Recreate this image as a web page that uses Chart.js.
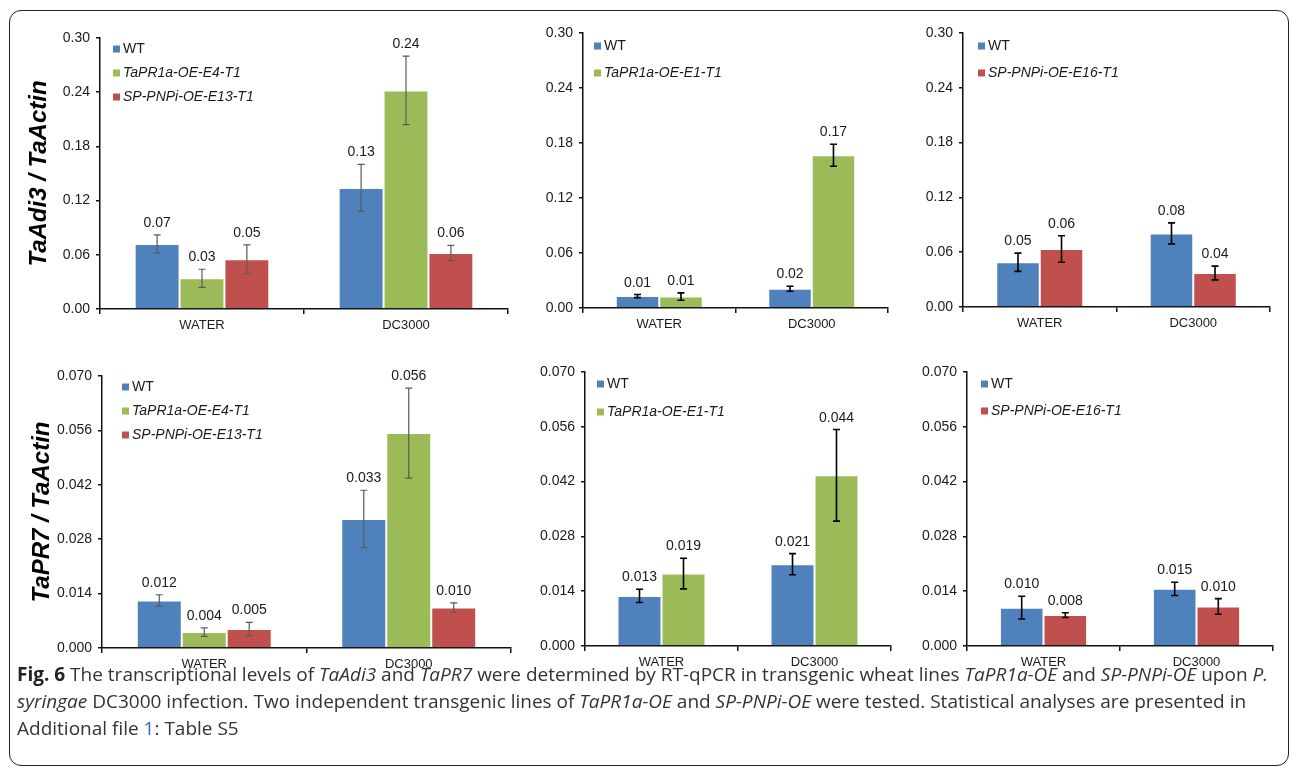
<!DOCTYPE html>
<html>
<head>
<meta charset="utf-8">
<script src="https://cdn.jsdelivr.net/npm/chart.js@4.4.1/dist/chart.umd.min.js"></script>
<style>
html, body { margin: 0; padding: 0; background: #fff; }
body { width: 1290px; height: 768px; position: relative; overflow: hidden; font-family: "Liberation Sans", Arial, sans-serif; }
#frame { position: absolute; left: 9px; top: 10px; width: 1280px; height: 756px; border: 1.5px solid #222; border-radius: 12px; box-sizing: border-box; }
canvas { position: absolute; }
#caption { position: absolute; left: 17px; top: 661px; font-family: "Open Sans", sans-serif; font-size: 19px; line-height: 27px; color: #333; white-space: nowrap; transform-origin: 0 0; }
#caption b { font-weight: 700; color: #222; }
#caption a { color: #3366cc; text-decoration: none; }
</style>
</head>
<body>
<div id="frame"></div>
<canvas id="p1" width="520" height="340" style="left:0;top:0"></canvas>
<canvas id="p2" width="380" height="340" style="left:520px;top:0"></canvas>
<canvas id="p3" width="385" height="340" style="left:900px;top:0"></canvas>
<canvas id="p4" width="520" height="350" style="left:0;top:340px"></canvas>
<canvas id="p5" width="380" height="350" style="left:520px;top:340px"></canvas>
<canvas id="p6" width="385" height="350" style="left:900px;top:340px"></canvas>
<div id="caption">
  <div id="capLine1"><b>Fig. 6</b> The transcriptional levels of <i>TaAdi3</i> and <i>TaPR7</i> were determined by RT-qPCR in transgenic wheat lines <i>TaPR1a-OE</i> and <i>SP-PNPi-OE</i> upon <i>P.</i></div>
  <div><i>syringae</i> DC3000 infection. Two independent transgenic lines of <i>TaPR1a-OE</i> and <i>SP-PNPi-OE</i> were tested. Statistical analyses are presented in</div>
  <div>Additional file <a>1</a>: Table S5</div>
</div>
<script>
// --- data ---------------------------------------------------------------
const categories = ['WATER', 'DC3000'];

const adi3Ticks = [0, 0.06, 0.12, 0.18, 0.24, 0.30];
const adi3TickLabels = ['0.00', '0.06', '0.12', '0.18', '0.24', '0.30'];
const pr7Ticks = [0, 0.014, 0.028, 0.042, 0.056, 0.070];
const pr7TickLabels = ['0.000', '0.014', '0.028', '0.042', '0.056', '0.070'];

// TaAdi3, E4 / E13 lines
const adi3A_wt = [0.072, 0.134];
const adi3A_wtErr = [0.010, 0.026];
const adi3A_wtLbl = ['0.07', '0.13'];
const adi3A_e4 = [0.034, 0.242];
const adi3A_e4Err = [0.010, 0.038];
const adi3A_e4Lbl = ['0.03', '0.24'];
const adi3A_e13 = [0.055, 0.062];
const adi3A_e13Err = [0.016, 0.0085];
const adi3A_e13Lbl = ['0.05', '0.06'];

// TaAdi3, E1 line
const adi3B_wt = [0.013, 0.021];
const adi3B_wtErr = [0.0017, 0.0027];
const adi3B_wtLbl = ['0.01', '0.02'];
const adi3B_e1 = [0.0125, 0.1666];
const adi3B_e1Err = [0.004, 0.012];
const adi3B_e1Lbl = ['0.01', '0.17'];

// TaAdi3, E16 line
const adi3C_wt = [0.049, 0.0806];
const adi3C_wtErr = [0.010, 0.0115];
const adi3C_wtLbl = ['0.05', '0.08'];
const adi3C_e16 = [0.0635, 0.0372];
const adi3C_e16Err = [0.0145, 0.0075];
const adi3C_e16Lbl = ['0.06', '0.04'];

// TaPR7, E4 / E13 lines
const pr7A_wt = [0.0122, 0.0332];
const pr7A_wtErr = [0.0015, 0.0074];
const pr7A_wtLbl = ['0.012', '0.033'];
const pr7A_e4 = [0.0041, 0.0553];
const pr7A_e4Err = [0.0011, 0.0116];
const pr7A_e4Lbl = ['0.004', '0.056'];
const pr7A_e13 = [0.0049, 0.0104];
const pr7A_e13Err = [0.0017, 0.0012];
const pr7A_e13Lbl = ['0.005', '0.010'];

// TaPR7, E1 line
const pr7B_wt = [0.0128, 0.0209];
const pr7B_wtErr = [0.0017, 0.0027];
const pr7B_wtLbl = ['0.013', '0.021'];
const pr7B_e1 = [0.0185, 0.0436];
const pr7B_e1Err = [0.0039, 0.0117];
const pr7B_e1Lbl = ['0.019', '0.044'];

// TaPR7, E16 line
const pr7C_wt = [0.0098, 0.0146];
const pr7C_wtErr = [0.0029, 0.0017];
const pr7C_wtLbl = ['0.010', '0.015'];
const pr7C_e16 = [0.0079, 0.0101];
const pr7C_e16Err = [0.0006, 0.0020];
const pr7C_e16Lbl = ['0.008', '0.010'];

// --- colours (Excel defaults) ----------------------------------------------
const BLUE = '#4f81bd', GREEN = '#9bbb59', RED = '#c0504d';
const FONT = '"Liberation Sans", Arial, sans-serif';

function ds(label, color, data, errors, valueLabels) {
    return { label, data, errors, valueLabels, backgroundColor: color, borderColor: 'rgba(255,255,255,0.35)', borderWidth: 1 };
}

// error bars + value labels on top of them
const errorBars = {
    id: 'errorBars',
    afterDatasetsDraw(chart, args, opts) {
        const ctx = chart.ctx;
        const y = chart.scales.y;
        chart.data.datasets.forEach((d, i) => {
            chart.getDatasetMeta(i).data.forEach((bar, j) => {
                const yt = y.getPixelForValue(d.data[j] + d.errors[j]);
                const yb = y.getPixelForValue(d.data[j] - d.errors[j]);
                ctx.save();
                ctx.strokeStyle = opts.color;
                ctx.lineWidth = opts.width;
                ctx.beginPath();
                ctx.moveTo(bar.x, yt); ctx.lineTo(bar.x, yb);
                ctx.moveTo(bar.x - 3.5, yt); ctx.lineTo(bar.x + 3.5, yt);
                ctx.moveTo(bar.x - 3.5, yb); ctx.lineTo(bar.x + 3.5, yb);
                ctx.stroke();
                ctx.fillStyle = '#1a1a1a';
                ctx.font = '14px ' + FONT;
                ctx.textAlign = 'center';
                ctx.textBaseline = 'alphabetic';
                ctx.fillText(d.valueLabels[j], bar.x, yt - 8);
                ctx.restore();
            });
        });
    },
};

// small square legend inside the plot, top left
const boxLegend = {
    id: 'boxLegend',
    afterDraw(chart, args, opts) {
        const { ctx, chartArea } = chart;
        chart.data.datasets.forEach((d, i) => {
            const cy = chartArea.top + opts.y + i * opts.gap;
            const x = chartArea.left + opts.x;
            ctx.save();
            ctx.fillStyle = d.backgroundColor;
            ctx.fillRect(x, cy - 3.5, 7, 7);
            ctx.fillStyle = '#1a1a1a';
            ctx.font = (i === 0 ? '' : 'italic ') + '14px ' + FONT;
            ctx.textAlign = 'left';
            ctx.textBaseline = 'middle';
            ctx.fillText(d.label, x + 10, cy);
            ctx.restore();
        });
    },
};

function panel(id, p) {
    new Chart(document.getElementById(id), {
        type: 'bar',
        data: { labels: categories, datasets: p.datasets },
        options: {
            responsive: false,
            animation: false,
            layout: { padding: { left: 0, top: p.pad[0], right: p.pad[1], bottom: 0 } },
            datasets: { bar: { categoryPercentage: p.cat, barPercentage: 1 } },
            plugins: {
                legend: { display: false },
                tooltip: { enabled: false },
                errorBars: { color: p.errColor, width: p.errWidth },
                boxLegend: p.legend,
            },
            scales: {
                x: {
                    type: 'category',
                    offset: true,
                    afterFit: (s) => { s.height = p.xh; },
                    grid: { offset: true, drawOnChartArea: false, drawTicks: true, tickLength: 5, color: '#111', lineWidth: 1.5 },
                    border: { color: '#111', width: 1.5 },
                    ticks: { color: '#1a1a1a', font: { family: FONT, size: 13 }, padding: 4 },
                },
                y: {
                    min: 0,
                    max: p.ticks[p.ticks.length - 1],
                    afterFit: (s) => { s.width = p.yw; },
                    afterBuildTicks: (s) => { s.ticks = p.ticks.map((v) => ({ value: v })); },
                    grid: { drawOnChartArea: false, drawTicks: true, tickLength: 4, color: '#111', lineWidth: 1.5 },
                    border: { color: '#111', width: 1.5 },
                    ticks: { color: '#1a1a1a', font: { family: FONT, size: 14 }, padding: 6, callback: (v, i) => p.tickLabels[i] },
                    title: p.title
                        ? { display: true, text: p.title, color: '#000', font: { family: FONT, size: 24, weight: 'bold', style: 'italic' }, padding: { top: p.titlePad, bottom: 0 } }
                        : { display: false },
                },
            },
        },
        plugins: [errorBars, boxLegend],
    });
}

panel('p1', {
    datasets: [
        ds('WT', BLUE, adi3A_wt, adi3A_wtErr, adi3A_wtLbl),
        ds('TaPR1a-OE-E4-T1', GREEN, adi3A_e4, adi3A_e4Err, adi3A_e4Lbl),
        ds('SP-PNPi-OE-E13-T1', RED, adi3A_e13, adi3A_e13Err, adi3A_e13Lbl),
    ],
    ticks: adi3Ticks, tickLabels: adi3TickLabels,
    pad: [38, 12], yw: 100, xh: 31, cat: 0.66,
    errColor: '#5a5a5a', errWidth: 1.2,
    legend: { x: 13, y: 11, gap: 24 },
    title: 'TaAdi3 / TaActin', titlePad: 25,
});
panel('p2', {
    datasets: [
        ds('WT', BLUE, adi3B_wt, adi3B_wtErr, adi3B_wtLbl),
        ds('TaPR1a-OE-E1-T1', GREEN, adi3B_e1, adi3B_e1Err, adi3B_e1Lbl),
    ],
    ticks: adi3Ticks, tickLabels: adi3TickLabels,
    pad: [33, 12], yw: 63, xh: 32, cat: 0.57,
    errColor: '#000', errWidth: 1.6,
    legend: { x: 11, y: 13, gap: 27 },
});
panel('p3', {
    datasets: [
        ds('WT', BLUE, adi3C_wt, adi3C_wtErr, adi3C_wtLbl),
        ds('SP-PNPi-OE-E16-T1', RED, adi3C_e16, adi3C_e16Err, adi3C_e16Lbl),
    ],
    ticks: adi3Ticks, tickLabels: adi3TickLabels,
    pad: [33, 15], yw: 63, xh: 33, cat: 0.567,
    errColor: '#000', errWidth: 1.6,
    legend: { x: 15, y: 13, gap: 27 },
});
panel('p4', {
    datasets: [
        ds('WT', BLUE, pr7A_wt, pr7A_wtErr, pr7A_wtLbl),
        ds('TaPR1a-OE-E4-T1', GREEN, pr7A_e4, pr7A_e4Err, pr7A_e4Lbl),
        ds('SP-PNPi-OE-E13-T1', RED, pr7A_e13, pr7A_e13Err, pr7A_e13Lbl),
    ],
    ticks: pr7Ticks, tickLabels: pr7TickLabels,
    pad: [36, 9], yw: 102, xh: 42, cat: 0.66,
    errColor: '#5a5a5a', errWidth: 1.2,
    legend: { x: 20, y: 11, gap: 24 },
    title: 'TaPR7 / TaActin', titlePad: 28,
});
panel('p5', {
    datasets: [
        ds('WT', BLUE, pr7B_wt, pr7B_wtErr, pr7B_wtLbl),
        ds('TaPR1a-OE-E1-T1', GREEN, pr7B_e1, pr7B_e1Err, pr7B_e1Lbl),
    ],
    ticks: pr7Ticks, tickLabels: pr7TickLabels,
    pad: [32, 9], yw: 65, xh: 44, cat: 0.575,
    errColor: '#000', errWidth: 1.6,
    legend: { x: 12, y: 12, gap: 28 },
});
panel('p6', {
    datasets: [
        ds('WT', BLUE, pr7C_wt, pr7C_wtErr, pr7C_wtLbl),
        ds('SP-PNPi-OE-E16-T1', RED, pr7C_e16, pr7C_e16Err, pr7C_e16Lbl),
    ],
    ticks: pr7Ticks, tickLabels: pr7TickLabels,
    pad: [32, 12], yw: 67, xh: 44, cat: 0.57,
    errColor: '#000', errWidth: 1.6,
    legend: { x: 14, y: 12, gap: 27 },
});

// caption: squeeze to the width of the printed line
const cap = document.getElementById('caption');
const line1 = document.getElementById('capLine1');
const w1 = line1.getBoundingClientRect().width;
cap.style.transform = 'scaleX(' + (1251 / w1) + ')';
</script>
</body>
</html>
